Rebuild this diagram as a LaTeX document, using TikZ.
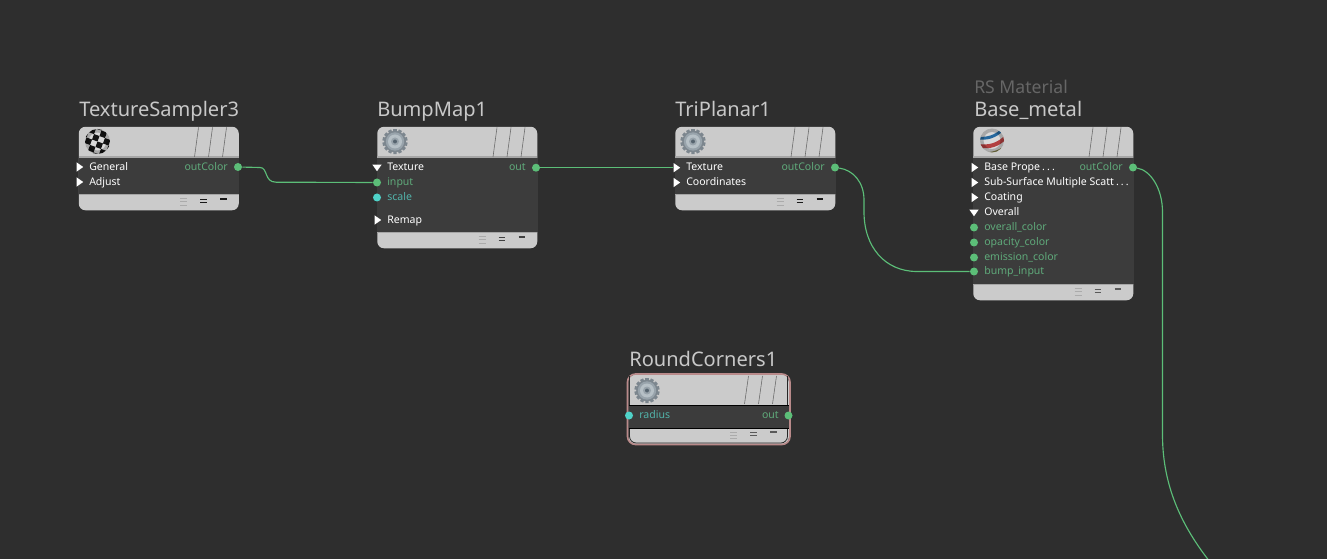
\documentclass[tikz,border=0pt]{standalone}
\usepackage{fontspec}
\setmainfont{Noto Sans}
\usetikzlibrary{shapes.geometric}
\definecolor{bg}{HTML}{2E2E2E}
\definecolor{panel}{HTML}{3C3C3C}
\definecolor{head}{HTML}{CBCBCB}
\definecolor{headedge}{HTML}{A6A6A6}
\definecolor{titlecol}{HTML}{C8C8C8}
\definecolor{subcol}{HTML}{666666}
\definecolor{wire}{HTML}{5CBE78}
\definecolor{cyanp}{HTML}{4FD2C8}
\definecolor{gtext}{HTML}{5FA97A}
\definecolor{ctext}{HTML}{52B3AA}
\definecolor{pink}{HTML}{B98A8A}
\definecolor{geardark}{HTML}{7C868E}
\definecolor{gearmid}{HTML}{98A3AB}
\definecolor{gearlight}{HTML}{B6C0C6}
\definecolor{gearhub}{HTML}{56646F}
\tikzset{
  x=0.75pt,y=-0.75pt,
  title/.style={anchor=base west,inner sep=0pt,text=titlecol,font=\fontsize{15.05}{18}\selectfont},
  subtitle/.style={anchor=base west,inner sep=0pt,text=subcol,font=\fontsize{13.2}{16}\selectfont},
  lbl/.style={anchor=base west,inner sep=0pt,yshift=-0.75pt,text=white,font=\fontsize{7.9}{9}\selectfont},
  glbl/.style={lbl,text=gtext},
  clbl/.style={lbl,text=ctext},
  olbl/.style={lbl,anchor=base east,text=gtext},
  gport/.style={circle,fill=wire,inner sep=0pt,minimum size=6pt},
  cport/.style={circle,fill=cyanp,inner sep=0pt,minimum size=6pt},
  trport/.style={isosceles triangle,isosceles triangle apex angle=70,shape border rotate=0,fill=white,inner sep=0pt,minimum height=5pt,minimum width=6pt},
  tdport/.style={isosceles triangle,isosceles triangle apex angle=70,shape border rotate=-90,fill=white,inner sep=0pt,minimum height=5pt,minimum width=6pt},
  wirel/.style={draw=wire,line width=0.85pt},
  nbody/.style={rectangle,rounded corners=5pt,fill=head,inner sep=0pt,anchor=north west},
  nband/.style={rectangle,fill=panel,inner sep=0pt,anchor=north west}
}
\newcommand{\dotsgap}{\kern1.6pt.\kern1.6pt.\kern1.6pt.}
% #1 name, #2 left, #3 top, #4 band top, #5 band bottom, #6 bottom, #7 colour of the footer marks
\newcommand{\shadernode}[7]{%
  \node[nbody,minimum width=120pt,minimum height={(#6-#3)*0.75pt}] (#1) at (#2,#3) {};
  \node[nband,minimum width=120.4pt,minimum height={(#5-#4)*0.75pt}] (#1band) at (#2-0.25,#4) {};
  \fill[headedge] (#2,#4-1.5) rectangle (#2+160,#4);
  \fill[headedge] (#2,#5) rectangle (#2+160,#5+1);
  \foreach \dx in {116,130,144}{\draw[draw=gray!85!black,line width=0.45pt] (#2+\dx,#4-1) -- (#2+\dx+4,#3+1);}
  \foreach \dy in {-3.3,0,3.3}{\draw[draw=black!33,line width=0.7pt] (#2+101.5,#5+7.7+\dy) -- (#2+108.5,#5+7.7+\dy);}
  \foreach \dy in {-1.7,1.7}{\draw[draw=#7,line width=0.9pt] (#2+121.5,#5+7+\dy) -- (#2+128.2,#5+7+\dy);}
  \draw[draw=#7,line width=0.9pt] (#2+141.5,#5+5) -- (#2+148.2,#5+5);
}
\newcommand{\gearicon}[2]{%
  \begin{scope}[shift={(#1,#2)}]
    \foreach \a in {0,25.714,...,340}{\fill[geardark,rotate=\a] (-1.7,-12.6) rectangle (1.7,-8);}
    \fill[geardark] (0,0) circle[radius=10.8];
    \fill[gearmid] (0,0) circle[radius=9.2];
    \fill[gearlight] (0,0) circle[radius=7];
    \fill[gearmid] (0,0) circle[radius=4];
    \fill[gearhub] (0,0) circle[radius=2];
  \end{scope}
}
\newcommand{\edgeshade}[1]{%
  \foreach \r in {0,1,2,3}{\draw[black,opacity=0.2,line width=0.75pt] (0,0) circle[radius=#1-\r];}
}
\newcommand{\checkericon}[2]{%
  \begin{scope}[shift={(#1,#2)}]
    \begin{scope}
      \clip (0,0) circle[radius=12.5];
      \fill[white!85!black] (-13,-13) rectangle (13,13);
      \begin{scope}[rotate=-20]
        \foreach \i in {-3,...,2}{\foreach \j in {-3,...,2}{%
          \pgfmathparse{int(mod(\i+\j+12,2))}
          \ifnum\pgfmathresult=0 \fill[black!92] (\i*5.8,\j*5.8) rectangle (\i*5.8+5.8,\j*5.8+5.8);\fi
        }}
      \end{scope}
      \edgeshade{12.5}
    \end{scope}
  \end{scope}
}
\newcommand{\ballicon}[2]{%
  \begin{scope}[shift={(#1,#2)}]
    \begin{scope}
      \clip (0,0) circle[radius=12];
      \fill[white!85!black] (-13,-13) rectangle (13,13);
      \begin{scope}[rotate=18]
        \fill[blue!45!cyan!55!black!85] (-14,-9) .. controls (-5,-4) and (5,-4) .. (14,-9) -- (14,-6) .. controls (5,-1) and (-5,-1) .. (-14,-6) -- cycle;
        \fill[red!60!black!75] (-14,-1) .. controls (-5,4) and (5,4) .. (14,-1) -- (14,3) .. controls (5,8) and (-5,8) .. (-14,3) -- cycle;
        \fill[olive!55!black!80] (-14,7) .. controls (-5,12) and (5,12) .. (14,7) -- (14,14) -- (-14,14) -- cycle;
      \end{scope}
      \edgeshade{12}
    \end{scope}
  \end{scope}
}
\begin{document}
\begin{tikzpicture}
\useasboundingbox (0,0) rectangle (1327,559);
\fill[bg] (0,0) rectangle (1327,559);

% titles
\node[title] (t1) at (79,117) {TextureSampler3};
\node[title] (t2) at (377,117) {BumpMap1};
\node[title] (t3) at (675,117) {TriPlanar1};
\node[subtitle] (t4a) at (974,94) {RS Material};
\node[title] (t4) at (974,117) {Base\_metal};
\node[title] (t5) at (629,366) {RoundCorners1};

% bodies
\shadernode{ts}{78.5}{126.5}{158}{194}{210}{black!90}
\shadernode{bm}{377}{126.5}{158}{232}{248}{black!75}
\shadernode{tp}{675}{126.5}{158}{194}{210}{black!90}
\shadernode{bs}{973}{126.5}{158}{284}{300}{black!65}

\node[nbody,minimum width=120pt,minimum height={70*0.75pt}] (rc) at (628.5,374.5) {};
\node[nband,minimum width=120pt,minimum height={23*0.75pt}] (rcband) at (628.5,405.5) {};
\foreach \dx in {116,130,144}{\draw[draw=gray!85!black,line width=0.45pt] (628.5+\dx,404) -- (628.5+\dx+4,376);}
\foreach \dy in {-3.3,0,3.3}{\draw[draw=black!33,line width=0.7pt] (730,435.5+\dy) -- (737,435.5+\dy);}
\foreach \dy in {-1.7,1.7}{\draw[draw=black!65,line width=0.9pt] (750,434+\dy) -- (756.7,434+\dy);}
\draw[draw=black!65,line width=0.9pt] (770,432) -- (776.7,432);
\draw[black,line width=0.9pt] (628.5,405.5) -- (789,405.5) (628.5,428.5) -- (789,428.5);
\draw[pink,line width=1.2pt,rounded corners=6pt] (627.5,374) rectangle (790,444.5);
\draw[black!85,line width=0.6pt,rounded corners=5pt] (629.5,376) -- (629.5,405) (787.5,376) -- (787.5,405);
\draw[black!85,line width=0.6pt,rounded corners=5pt] (629.5,429) -- (629.5,443) -- (787.5,443) -- (787.5,429);

% icons
\checkericon{97.5}{141.5}
\gearicon{395}{141.5}
\gearicon{693}{141.5}
\ballicon{992}{140.5}
\gearicon{647}{390.5}

% connectors
\coordinate (offend) at (1210,562);
\node[gport] (tsout) at (238,167) {};
\node[gport] (bminput) at (377,182.5) {};
\node[gport] (bmout) at (536,167.7) {};
\node[trport] (tptex) at (676,167.7) {};
\node[gport] (tpout) at (835,167.5) {};
\node[gport] (bsbump) at (974,271.5) {};
\node[gport] (bsout) at (1133,167.5) {};
\begin{scope}
\clip (0,0) rectangle (1327,559);
\draw[wirel] (tsout) -- (260,167.5) .. controls (268,167.5) and (264,182.2) .. (276,182.2) -- (bminput);
\draw[wirel] (bmout) -- (tptex);
\draw[wirel] (tpout) .. controls (853,170) and (864,182) .. (864,200) -- (864,212) .. controls (864,247) and (885,271.5) .. (917,271.5) -- (bsbump);
\draw[wirel] (bsout) .. controls (1150,170) and (1162.5,188) .. (1162.5,212) -- (1162.5,435) .. controls (1162.5,490) and (1185,530) .. (offend);
\end{scope}

% TextureSampler3 rows
\node[trport] (tsgen) at (79,167) {};
\node[trport] (tsadj) at (79,182) {};
\node[lbl] (tsgent) at (89,170) {General};
\node[lbl] (tsadjt) at (89,185) {Adjust};
\node[olbl] (tsoutt) at (228,170) {outColor};

% BumpMap1 rows
\node[tdport] (bmtex) at (377,167) {};
\node[lbl] (bmtext) at (387,170) {Texture};
\node[glbl] (bminputt) at (387,185) {input};
\node[cport] (bmscale) at (377,197.5) {};
\node[clbl] (bmscalet) at (387,200) {scale};
\node[trport] (bmremap) at (377,220) {};
\node[lbl] (bmremapt) at (387,222.5) {Remap};
\node[olbl] (bmoutt) at (526,170) {out};

% TriPlanar1 rows
\node[lbl] (tptext) at (686,170) {Texture};
\node[trport] (tpcoord) at (676,182.5) {};
\node[lbl] (tpcoordt) at (686,185) {Coordinates};
\node[olbl] (tpoutt) at (825,170) {outColor};

% Base_metal rows
\node[trport] (bsbase) at (974,167.5) {};
\node[lbl] (bsbaset) at (984,170) {Base Prope\dotsgap};
\node[trport] (bssub) at (974,182.5) {};
\node[lbl] (bssubt) at (984,185) {Sub-Surface Multiple Scatt\dotsgap};
\node[trport] (bscoat) at (974,197.5) {};
\node[lbl] (bscoatt) at (984,200) {Coating};
\node[tdport] (bsover) at (974,212) {};
\node[lbl] (bsovert) at (984,215) {Overall};
\node[gport] (bsoc) at (974,227.5) {};
\node[glbl] (bsoct) at (984,230) {overall\_color};
\node[gport] (bsop) at (974,242.5) {};
\node[glbl] (bsopt) at (984,245) {opacity\_color};
\node[gport] (bsem) at (974,257.5) {};
\node[glbl] (bsemt) at (984,260) {emission\_color};
\node[glbl] (bsbumpt) at (984,274) {bump\_input};
\node[olbl] (bsoutt) at (1123,170) {outColor};

% RoundCorners1 rows
\node[cport] (rcrad) at (629,415.5) {};
\node[clbl] (rcradt) at (639,417) {radius};
\node[olbl] (rcoutt) at (779,417) {out};
\node[gport] (rcout) at (788.5,415.5) {};
\end{tikzpicture}
\end{document}
